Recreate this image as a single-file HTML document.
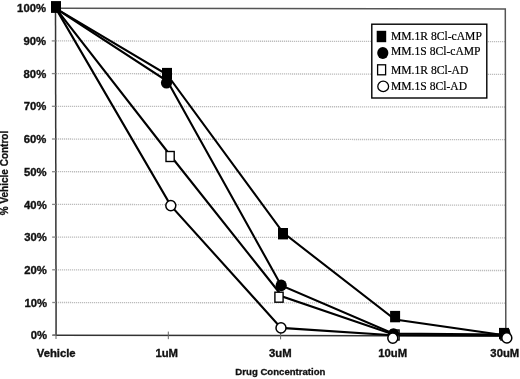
<!DOCTYPE html>
<html><head><meta charset="utf-8"><style>
html,body{margin:0;padding:0;background:#fff;}
body{width:520px;height:379px;overflow:hidden;}
svg{display:block;will-change:transform;}
.ax{font-family:"Liberation Sans",sans-serif;font-weight:bold;font-size:11.3px;fill:#111;stroke:#111;stroke-width:0.35px;}
.tt{font-family:"Liberation Sans",sans-serif;font-weight:bold;font-size:9.6px;fill:#111;stroke:#111;stroke-width:0.3px;}
.lg{font-family:"Liberation Serif",serif;font-size:11.6px;fill:#000;stroke:#000;stroke-width:0.2px;}
</style></head><body>
<svg width="520" height="379" viewBox="0 0 520 379">
<rect width="520" height="379" fill="#fff"/>
<line x1="56.0" y1="302.50" x2="505.4" y2="303.22" stroke="#bcbcbc" stroke-width="1.3" stroke-dasharray="1.2,0.8"/>
<line x1="56.0" y1="269.80" x2="505.4" y2="270.52" stroke="#bcbcbc" stroke-width="1.3" stroke-dasharray="1.2,0.8"/>
<line x1="56.0" y1="237.10" x2="505.4" y2="237.82" stroke="#bcbcbc" stroke-width="1.3" stroke-dasharray="1.2,0.8"/>
<line x1="56.0" y1="204.40" x2="505.4" y2="205.12" stroke="#bcbcbc" stroke-width="1.3" stroke-dasharray="1.2,0.8"/>
<line x1="56.0" y1="171.70" x2="505.4" y2="172.42" stroke="#bcbcbc" stroke-width="1.3" stroke-dasharray="1.2,0.8"/>
<line x1="56.0" y1="139.00" x2="505.4" y2="139.72" stroke="#bcbcbc" stroke-width="1.3" stroke-dasharray="1.2,0.8"/>
<line x1="56.0" y1="106.30" x2="505.4" y2="107.02" stroke="#bcbcbc" stroke-width="1.3" stroke-dasharray="1.2,0.8"/>
<line x1="56.0" y1="73.60" x2="505.4" y2="74.32" stroke="#bcbcbc" stroke-width="1.3" stroke-dasharray="1.2,0.8"/>
<line x1="56.0" y1="40.90" x2="505.4" y2="41.62" stroke="#bcbcbc" stroke-width="1.3" stroke-dasharray="1.2,0.8"/>
<polyline points="56.0,8.20 505.3,8.92 505.8,335.92" fill="none" stroke="#555" stroke-width="1.5"/>
<line x1="55.5" y1="8.20" x2="56.1" y2="335.20" stroke="#333" stroke-width="1.5"/>
<line x1="52.5" y1="335.19" x2="505.8" y2="335.92" stroke="#333" stroke-width="1.5"/>
<line x1="52.30" y1="335.20" x2="56.10" y2="335.20" stroke="#888" stroke-width="1.3"/>
<line x1="52.24" y1="302.50" x2="56.04" y2="302.50" stroke="#888" stroke-width="1.3"/>
<line x1="52.18" y1="269.80" x2="55.98" y2="269.80" stroke="#888" stroke-width="1.3"/>
<line x1="52.12" y1="237.10" x2="55.92" y2="237.10" stroke="#888" stroke-width="1.3"/>
<line x1="52.06" y1="204.40" x2="55.86" y2="204.40" stroke="#888" stroke-width="1.3"/>
<line x1="52.00" y1="171.70" x2="55.80" y2="171.70" stroke="#888" stroke-width="1.3"/>
<line x1="51.94" y1="139.00" x2="55.74" y2="139.00" stroke="#888" stroke-width="1.3"/>
<line x1="51.88" y1="106.30" x2="55.68" y2="106.30" stroke="#888" stroke-width="1.3"/>
<line x1="51.82" y1="73.60" x2="55.62" y2="73.60" stroke="#888" stroke-width="1.3"/>
<line x1="51.76" y1="40.90" x2="55.56" y2="40.90" stroke="#888" stroke-width="1.3"/>
<line x1="51.70" y1="8.20" x2="55.50" y2="8.20" stroke="#888" stroke-width="1.3"/>
<line x1="56" y1="331.40" x2="56" y2="339.00" stroke="#666" stroke-width="1"/>
<line x1="168.3" y1="331.58" x2="168.3" y2="339.18" stroke="#666" stroke-width="1"/>
<line x1="280.6" y1="331.76" x2="280.6" y2="339.36" stroke="#666" stroke-width="1"/>
<line x1="392.9" y1="331.94" x2="392.9" y2="339.54" stroke="#666" stroke-width="1"/>
<line x1="505.2" y1="332.12" x2="505.2" y2="339.72" stroke="#666" stroke-width="1"/>
<polyline points="56,8.6 167,74.5 283,232.6 395,319.6 504.5,335.3" fill="none" stroke="#000" stroke-width="2.1" stroke-linejoin="miter"/>
<polyline points="56,8.6 167.5,81.3 281.2,285.4 393,333.5 505,334.5" fill="none" stroke="#000" stroke-width="2.1" stroke-linejoin="miter"/>
<polyline points="56,8.6 171.2,156.5 282.4,296.5 395,335.0 505,335.3" fill="none" stroke="#000" stroke-width="2.1" stroke-linejoin="miter"/>
<polyline points="56,8.6 170.8,205.6 281,327.9 392.8,335.2 506.8,335.5" fill="none" stroke="#000" stroke-width="2.1" stroke-linejoin="miter"/>
<rect x="51.0" y="1.3" width="10" height="11.4" fill="#000"/>
<rect x="162.0" y="67.9" width="10" height="11.4" fill="#000"/>
<rect x="278.0" y="228.0" width="10" height="11.4" fill="#000"/>
<rect x="390.1" y="310.9" width="10" height="11.4" fill="#000"/>
<rect x="499.0" y="327.9" width="10" height="11.4" fill="#000"/>
<rect x="166.0" y="151.5" width="8.2" height="10.0" fill="#fff" stroke="#000" stroke-width="1.4"/>
<rect x="274.9" y="292.2" width="8.2" height="10.0" fill="#fff" stroke="#000" stroke-width="1.4"/>
<rect x="390.9" y="330.0" width="8.2" height="10.0" fill="#fff" stroke="#000" stroke-width="1.4"/>
<rect x="500.9" y="330.0" width="8.2" height="10.0" fill="#fff" stroke="#000" stroke-width="1.4"/>
<ellipse cx="166.5" cy="82.8" rx="5.6" ry="5.8" fill="#000"/>
<ellipse cx="281.2" cy="285.4" rx="5.6" ry="5.8" fill="#000"/>
<ellipse cx="393.5" cy="334.0" rx="5.6" ry="5.8" fill="#000"/>
<ellipse cx="505" cy="334.0" rx="5.6" ry="5.8" fill="#000"/>
<ellipse cx="170.8" cy="205.6" rx="5.0" ry="5.1" fill="#fff" stroke="#000" stroke-width="1.5"/>
<ellipse cx="281" cy="327.9" rx="5.0" ry="5.1" fill="#fff" stroke="#000" stroke-width="1.5"/>
<ellipse cx="392.8" cy="338.1" rx="5.0" ry="5.1" fill="#fff" stroke="#000" stroke-width="1.5"/>
<ellipse cx="506.8" cy="337.9" rx="5.0" ry="5.1" fill="#fff" stroke="#000" stroke-width="1.5"/>
<rect x="51.0" y="1.3" width="10" height="11.4" fill="#000"/>
<text x="47.1" y="339.4" text-anchor="end" class="ax">0%</text>
<text x="47.0" y="306.7" text-anchor="end" class="ax">10%</text>
<text x="46.9" y="274.0" text-anchor="end" class="ax">20%</text>
<text x="46.8" y="241.2" text-anchor="end" class="ax">30%</text>
<text x="46.7" y="208.5" text-anchor="end" class="ax">40%</text>
<text x="46.6" y="175.8" text-anchor="end" class="ax">50%</text>
<text x="46.4" y="143.1" text-anchor="end" class="ax">60%</text>
<text x="46.3" y="110.4" text-anchor="end" class="ax">70%</text>
<text x="46.2" y="77.6" text-anchor="end" class="ax">80%</text>
<text x="46.1" y="44.9" text-anchor="end" class="ax">90%</text>
<text x="46.0" y="12.2" text-anchor="end" class="ax">100%</text>
<text x="56.2" y="356.5" text-anchor="middle" class="ax">Vehicle</text>
<text x="166.7" y="356.5" text-anchor="middle" class="ax">1uM</text>
<text x="280.3" y="356.5" text-anchor="middle" class="ax">3uM</text>
<text x="392.7" y="356.5" text-anchor="middle" class="ax">10uM</text>
<text x="504.8" y="356.5" text-anchor="middle" class="ax">30uM</text>
<text x="280.4" y="375" text-anchor="middle" class="tt">Drug Concentration</text>
<text transform="translate(8.4,173) rotate(-90)" text-anchor="middle" class="tt" style="font-size:10px">% Vehicle Control</text>
<rect x="371.8" y="24.2" width="115" height="73.8" fill="#fff" stroke="#000" stroke-width="1.4"/>
<rect x="376.7" y="30.8" width="9.5" height="11.4" fill="#000"/>
<ellipse cx="382.8" cy="53" rx="5.6" ry="6" fill="#000"/>
<rect x="377.6" y="64.8" width="8" height="10" fill="#fff" stroke="#000" stroke-width="1.3"/>
<ellipse cx="383.2" cy="86.4" rx="5.4" ry="5.2" fill="#fff" stroke="#000" stroke-width="1.3"/>
<text x="391" y="39.7" class="lg">MM.1R 8Cl-cAMP</text>
<text x="391" y="55.4" class="lg">MM.1S 8Cl-cAMP</text>
<text x="391" y="73.6" class="lg">MM.1R 8Cl-AD</text>
<text x="391" y="90.3" class="lg">MM.1S 8Cl-AD</text>
</svg>
</body></html>
